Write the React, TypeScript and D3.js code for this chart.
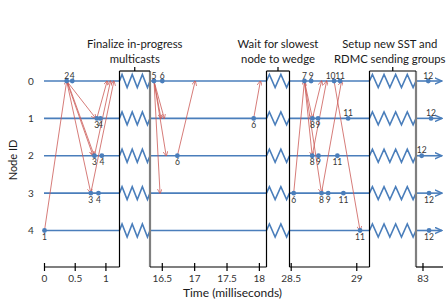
import { useMemo } from 'react'
import * as d3 from 'd3'

const nodeIds = [0, 1, 2, 3, 4]

// time windows of the four axis pieces (ms)
const segDomains: [number, number][] = [
  [0, 1.221],
  [16.31, 18.11],
  [28.487, 29.097],
  [82.947, 83.152],
]
const segTicks = [[0, 0.5, 1], [16.5, 17, 17.5, 18], [28.5, 29], [83]]

const boxTitles = [
  ['Finalize in-progress', 'multicasts'],
  ['Wait for slowest', 'node to wedge'],
  ['Setup new SST and', 'RDMC sending groups'],
]
const boxPeaks = [3, 2, 4]

type Ev = { node: number; seg: number; t: number; label: string; pos: 'above' | 'below' | 'aboveLeft' }

const events: Ev[] = [
  { node: 4, seg: 0, t: 0, label: '1', pos: 'below' },
  { node: 0, seg: 0, t: 0.361, label: '2', pos: 'above' },
  { node: 0, seg: 0, t: 0.452, label: '4', pos: 'above' },
  { node: 1, seg: 0, t: 0.852, label: '3', pos: 'below' },
  { node: 1, seg: 0, t: 0.911, label: '4', pos: 'below' },
  { node: 2, seg: 0, t: 0.813, label: '3', pos: 'below' },
  { node: 2, seg: 0, t: 0.934, label: '4', pos: 'below' },
  { node: 3, seg: 0, t: 0.754, label: '3', pos: 'below' },
  { node: 3, seg: 0, t: 0.879, label: '4', pos: 'below' },
  { node: 0, seg: 1, t: 16.372, label: '5', pos: 'above' },
  { node: 0, seg: 1, t: 16.5, label: '6', pos: 'above' },
  { node: 2, seg: 1, t: 16.733, label: '6', pos: 'below' },
  { node: 1, seg: 1, t: 17.912, label: '6', pos: 'below' },
  { node: 3, seg: 2, t: 28.519, label: '6', pos: 'below' },
  { node: 0, seg: 2, t: 28.601, label: '7', pos: 'above' },
  { node: 0, seg: 2, t: 28.652, label: '9', pos: 'above' },
  { node: 0, seg: 2, t: 28.827, label: '10', pos: 'aboveLeft' },
  { node: 0, seg: 2, t: 28.873, label: '11', pos: 'above' },
  { node: 1, seg: 2, t: 28.662, label: '8', pos: 'below' },
  { node: 1, seg: 2, t: 28.705, label: '9', pos: 'below' },
  { node: 1, seg: 2, t: 28.934, label: '11', pos: 'above' },
  { node: 2, seg: 2, t: 28.66, label: '8', pos: 'below' },
  { node: 2, seg: 2, t: 28.708, label: '9', pos: 'below' },
  { node: 2, seg: 2, t: 28.852, label: '11', pos: 'below' },
  { node: 3, seg: 2, t: 28.731, label: '8', pos: 'below' },
  { node: 3, seg: 2, t: 28.782, label: '9', pos: 'below' },
  { node: 3, seg: 2, t: 28.898, label: '11', pos: 'below' },
  { node: 4, seg: 2, t: 29.025, label: '11', pos: 'below' },
  { node: 0, seg: 3, t: 83.04, label: '12', pos: 'above' },
  { node: 1, seg: 3, t: 83.061, label: '12', pos: 'above' },
  { node: 2, seg: 3, t: 82.99, label: '12', pos: 'above' },
  { node: 3, seg: 3, t: 83.046, label: '12', pos: 'below' },
  { node: 4, seg: 3, t: 83.046, label: '12', pos: 'below' },
]

// [segment, from node, from t, to node, to t]
const messages: [number, number, number, number, number][] = [
  [0, 4, 0, 0, 0.361],
  [0, 0, 0.361, 1, 0.835],
  [0, 0, 0.361, 2, 0.79],
  [0, 0, 0.37, 2, 0.81],
  [0, 0, 0.361, 3, 0.754],
  [0, 1, 0.852, 0, 1.02],
  [0, 2, 0.813, 0, 1.075],
  [0, 3, 0.754, 0, 1.13],
  [1, 0, 16.372, 1, 16.48],
  [1, 0, 16.372, 1, 16.53],
  [1, 0, 16.372, 2, 16.56],
  [1, 0, 16.372, 3, 16.465],
  [1, 2, 16.733, 0, 17.008],
  [1, 1, 17.912, 0, 18.016],
  [2, 3, 28.519, 0, 28.601],
  [2, 0, 28.601, 1, 28.662],
  [2, 0, 28.601, 2, 28.66],
  [2, 0, 28.601, 3, 28.731],
  [2, 1, 28.662, 0, 28.732],
  [2, 2, 28.66, 0, 28.77],
  [2, 3, 28.731, 0, 28.884],
  [2, 0, 28.827, 4, 29.025],
]

const segRanges: [number, number][] = [
  [44.5, 119.5],
  [150, 266.5],
  [289.5, 369.5],
  [416, 443],
]

const blue = '#4a7ebb'
const red = '#cc5a57'
const font = 'Lato, "Open Sans", sans-serif'

export default function App() {
  const width = 446
  const height = 303
  const boxTop = 71
  const axisY = 267
  const amp = 6.5

  const xs = useMemo(() => segDomains.map((d, i) => d3.scaleLinear().domain(d).range(segRanges[i])), [])
  const y = d3.scaleLinear().domain([0, 4]).range([81, 230.5])

  const zig = (x0: number, x1: number, cy: number, n: number) => {
    const pts: [number, number][] = [[x0, cy]]
    const w = x1 - x0
    for (let k = 0; k < 2 * n; k++) {
      pts.push([x0 + (w * (k + 0.5)) / (2 * n), k % 2 === 0 ? cy - amp : cy + amp])
    }
    pts.push([x1, cy])
    return d3.line()(pts) as string
  }

  const boxes = boxPeaks.map((n, i) => ({ x0: segRanges[i][1], x1: segRanges[i + 1][0], n }))

  return (
    <svg width={width} height={height} style={{ position: 'absolute', left: 0, top: 0, background: '#fff' }}>
      <defs>
        <marker id="ra" viewBox="0 0 10 10" refX="9" refY="5" markerWidth="5" markerHeight="5" markerUnits="userSpaceOnUse" orient="auto">
          <path d="M0,0 L10,5 L0,10" fill="none" stroke={red} strokeWidth={1.4} />
        </marker>
        <marker id="ba" viewBox="0 0 10 10" refX="9" refY="5" markerWidth="8" markerHeight="8" markerUnits="userSpaceOnUse" orient="auto">
          <path d="M0,1 L9,5 L0,9" fill="none" stroke={blue} strokeWidth={1.8} />
        </marker>
      </defs>

      {/* node lines per segment */}
      {segRanges.map((r, s) =>
        nodeIds.map((n) => (
          <line
            key={`l${s}-${n}`}
            x1={s === 0 ? 44 : r[0]}
            x2={s === 3 ? r[1] - 1 : r[1]}
            y1={y(n)}
            y2={y(n)}
            stroke={blue}
            strokeWidth={1.6}
            markerEnd={s === 3 ? 'url(#ba)' : undefined}
          />
        ))
      )}

      {/* boxes with zigzags */}
      {boxes.map((b, i) => {
        const mid = (b.x0 + b.x1) / 2
        return (
          <g key={`b${i}`}>
            {nodeIds.map((n) => (
              <path key={n} d={zig(b.x0, b.x1, y(n), b.n)} fill="none" stroke={blue} strokeWidth={1.6} />
            ))}
            <line x1={b.x0} x2={b.x0} y1={boxTop} y2={axisY} stroke="#000" strokeWidth={1.2} />
            <line
              x1={b.x1}
              x2={b.x1}
              y1={boxTop}
              y2={axisY}
              stroke={i === 1 ? '#000' : '#7f7f7f'}
              strokeWidth={i === 1 ? 1.2 : 2.2}
            />
            <line x1={b.x0} x2={b.x1} y1={boxTop} y2={boxTop} stroke="#000" strokeWidth={1.2} />
            <line x1={mid} x2={mid} y1={boxTop - 4} y2={boxTop} stroke="#000" strokeWidth={1.2} />
            {boxTitles[i].map((t, j) => (
              <text
                key={j}
                x={i === 2 ? mid - 3 : mid}
                y={48 + j * 15}
                textAnchor="middle"
                fontFamily={font}
                fontSize={11.3}
                fill="#1a1a1a"
              >
                {t}
              </text>
            ))}
          </g>
        )
      })}

      {/* messages */}
      {messages.map(([s, fn, ft, tn, tt], i) => (
        <line
          key={`m${i}`}
          x1={xs[s](ft)}
          y1={y(fn)}
          x2={xs[s](tt)}
          y2={y(tn)}
          stroke={red}
          strokeWidth={0.8}
          markerEnd="url(#ra)"
        />
      ))}

      {/* events */}
      {events.map((e, i) => {
        const cx = xs[e.seg](e.t)
        const cy = y(e.node)
        const above = e.pos !== 'below'
        return (
          <g key={`e${i}`}>
            <circle cx={cx} cy={cy} r={2.4} fill={blue} />
            <text
              x={e.pos === 'aboveLeft' ? cx - 3.5 : cx}
              y={above ? cy - 2.5 : cy + 9.5}
              textAnchor="middle"
              fontFamily={font}
              fontSize={8.5}
              fill="#333"
            >
              {e.label}
            </text>
          </g>
        )
      })}

      {/* x axis pieces */}
      {segRanges.map((r, s) => (
        <g key={`ax${s}`}>
          <line x1={r[0]} x2={r[1]} y1={axisY} y2={axisY} stroke="#000" strokeWidth={1.2} />
          {segTicks[s].map((t) => (
            <g key={t}>
              <line x1={xs[s](t)} x2={xs[s](t)} y1={axisY - 4} y2={axisY + 4} stroke="#000" strokeWidth={1.2} />
              <text x={xs[s](t)} y={281.5} textAnchor="middle" fontFamily={font} fontSize={10} fill="#333">
                {d3.format('~g')(t)}
              </text>
            </g>
          ))}
        </g>
      ))}

      {/* y tick labels */}
      {nodeIds.map((n) => (
        <text key={`y${n}`} x={31} y={y(n) + 3.5} textAnchor="middle" fontFamily={font} fontSize={10} fill="#333">
          {n}
        </text>
      ))}

      <text
        transform={`translate(16.5,160) rotate(-90)`}
        textAnchor="middle"
        fontFamily={font}
        fontSize={11}
        fill="#1a1a1a"
      >
        Node ID
      </text>
      <text x={232.5} y={297} textAnchor="middle" fontFamily={font} fontSize={12} fill="#1a1a1a">
        Time (milliseconds)
      </text>
    </svg>
  )
}
